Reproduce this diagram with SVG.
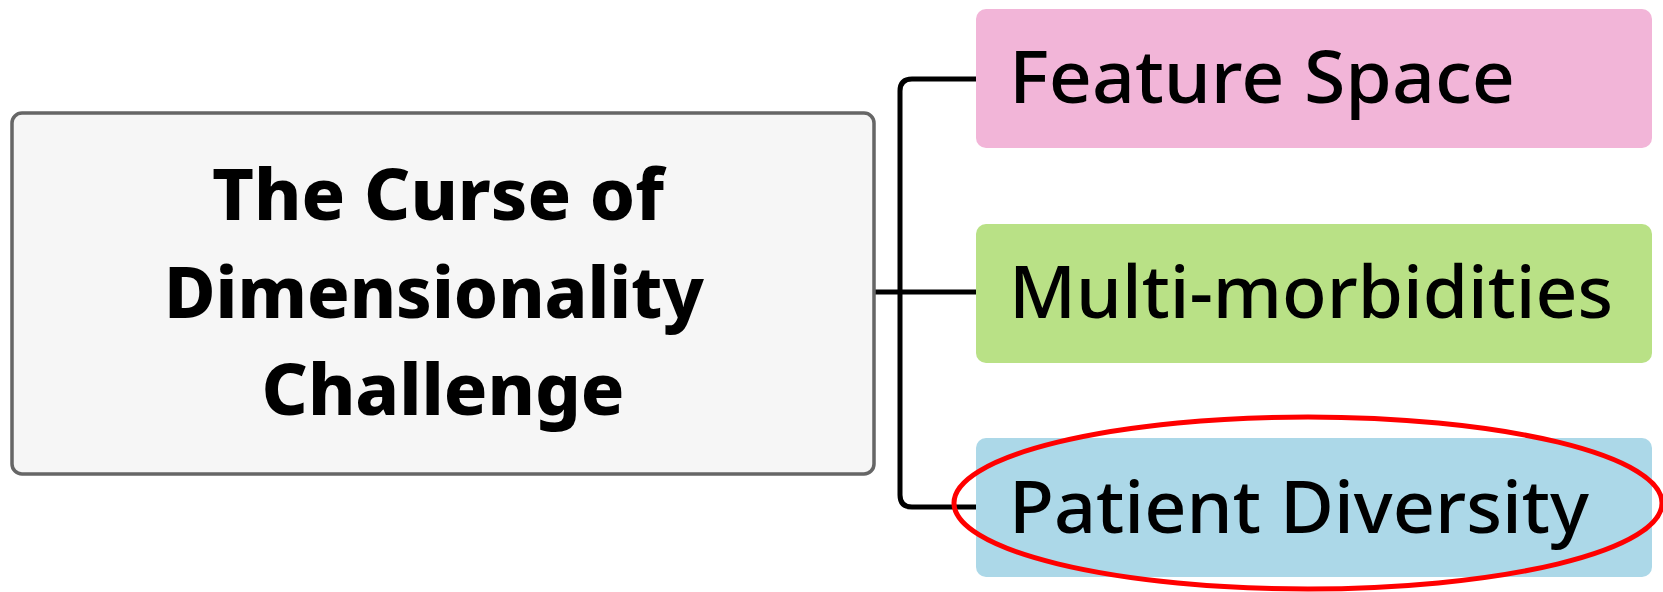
<svg xmlns="http://www.w3.org/2000/svg" width="1663" height="592" viewBox="0 0 1663 592">
  <style>
    .root-box { fill: #f6f6f6; stroke: #666666; stroke-width: 3.5; }
    .root-text { font-family: "Noto Sans", "DejaVu Sans", sans-serif; font-weight: 800; font-size: 72px; fill: #000; text-anchor: middle; }
    .leaf-text { font-family: "Noto Sans", "DejaVu Sans", sans-serif; font-weight: 500; font-size: 72px; fill: #000; }
    .link { fill: none; stroke: #000; stroke-width: 5; stroke-linejoin: round; }
    .mark { fill: none; stroke: #ff0000; stroke-width: 5; }
  </style>

  <rect width="1663" height="592" fill="#ffffff"/>

  <!-- connectors -->
  <g id="connectors">
    <path class="link" d="M976 79 H912 Q900 79 900 91 V495 Q900 507 912 507 H976"/>
    <path class="link" d="M874 292 H976"/>
  </g>

  <!-- central topic -->
  <g id="node-root">
    <rect class="root-box" x="12" y="113" width="862" height="361" rx="10"/>
    <text class="root-text" x="438" y="220">The Curse of</text>
    <text class="root-text" x="434" y="318" textLength="540" lengthAdjust="spacingAndGlyphs">Dimensionality</text>
    <text class="root-text" x="443" y="415">Challenge</text>
  </g>

  <!-- branches -->
  <g id="node-feature-space">
    <rect x="976" y="9" width="676" height="139" rx="10" fill="#f2b5d8"/>
    <text class="leaf-text" x="1009" y="103" textLength="506" lengthAdjust="spacingAndGlyphs">Feature Space</text>
  </g>

  <g id="node-multi-morbidities">
    <rect x="976" y="224" width="676" height="139" rx="10" fill="#b9e186"/>
    <text class="leaf-text" x="1009" y="318" textLength="604" lengthAdjust="spacingAndGlyphs">Multi-morbidities</text>
  </g>

  <g id="node-patient-diversity">
    <rect x="976" y="438" width="676" height="139" rx="10" fill="#acd8e8"/>
    <text class="leaf-text" x="1009" y="533" textLength="580" lengthAdjust="spacingAndGlyphs">Patient Diversity</text>
  </g>

  <!-- highlight around the last branch -->
  <g id="highlight">
    <ellipse class="mark" cx="1308" cy="503" rx="354" ry="86"/>
  </g>
</svg>
